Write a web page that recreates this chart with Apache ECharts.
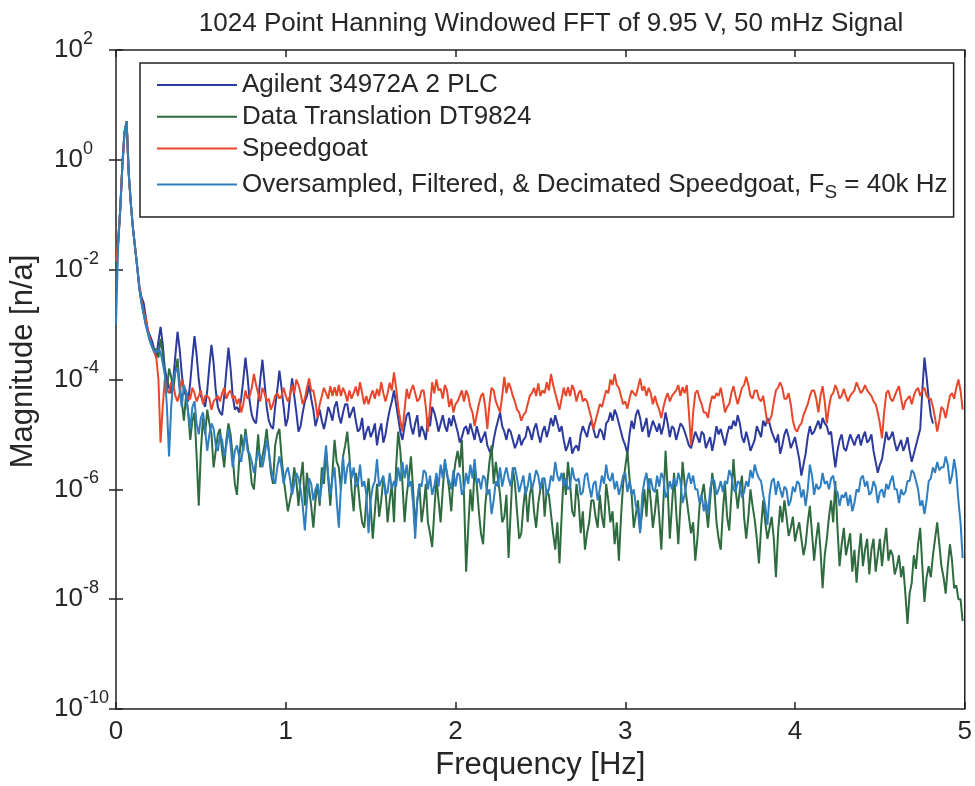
<!DOCTYPE html>
<html>
<head>
<meta charset="utf-8">
<script src="https://cdn.jsdelivr.net/npm/echarts@6/dist/echarts.min.js"></script>
<style>
  html, body { margin: 0; padding: 0; background: #ffffff; }
  #main { width: 975px; height: 786px; }
</style>
</head>
<body>
<div id="main"></div>
<script>
// Spectrum bins are spaced 0.0125 Hz apart; bin j sits at j * binWidthHz.
// Magnitudes are tabulated as log10 values, split into even bins (0, 2, 4, ...)
// and odd bins (1, 3, 5, ...).
const binWidthHz = 0.0125;

const agilentEvenBins = [
  -2.0,
  -0.9, 0.5, -0.25, -1.25, -1.95, -2.5, -2.85, -3.2, -3.45,
  -3.3, -3.35, -4.0, -4.25, -3.55, -3.45, -4.2, -4.4, -3.6, -3.55,
  -4.3, -4.5, -3.75, -3.7, -4.5, -4.65, -3.85, -3.8, -4.55, -4.6,
  -4.0, -3.95, -4.65, -4.8, -4.0, -4.05, -4.75, -4.9, -4.2, -4.15,
  -4.85, -4.3, -4.3, -4.95, -4.6, -4.3, -4.35, -4.85, -4.55, -4.9,
  -4.5, -4.75, -4.4, -4.8, -4.45, -4.7, -4.5, -4.95, -4.7, -4.95,
  -5.05, -4.8, -4.95, -5.15, -4.75, -4.4, -4.45, -4.95, -4.85, -4.6,
  -5.0, -4.65, -4.85, -5.1, -4.85, -4.6, -4.95, -4.65, -4.95, -4.85,
  -4.8, -5.15, -4.9, -5.0, -4.95, -4.85, -5.15, -4.95, -5.3, -5.1,
  -4.75, -4.85, -5.1, -4.95, -5.25, -5.0, -5.1, -4.85, -5.1, -4.8,
  -5.15, -4.85, -4.9, -4.85, -4.8, -4.85, -5.3, -5.05, -5.25, -5.3,
  -4.85, -5.05, -4.75, -5.05, -4.9, -5.1, -4.75, -4.75, -4.65, -4.95,
  -5.2, -5.0, -4.9, -4.55, -4.95, -4.7, -4.9, -4.85, -4.8, -4.85,
  -4.8, -4.85, -5.1, -4.8, -4.95, -5.2, -5.1, -5.05, -4.95, -5.25,
  -5.05, -5.1, -5.0, -5.05, -5.0, -4.9, -4.85, -4.8, -5.15, -5.1,
  -5.2, -4.85, -5.05, -4.85, -4.8, -5.05, -5.0, -5.2, -4.9, -5.25,
  -5.05, -5.45, -5.55, -5.05, -5.0, -4.85, -4.9, -4.8, -5.0, -5.3,
  -5.3, -5.0, -5.3, -5.0, -5.2, -5.0, -5.05, -5.15, -5.0, -5.5,
  -5.55, -5.2, -5.1, -4.95, -5.3, -5.1, -5.2, -5.3, -5.35, -5.05,
  -4.2, -3.95, -4.65
];
const agilentOddBins = [
  -1.5, -0.1, 0.7, -0.8, -1.6, -2.3, -2.6, -3.1, -3.3, -3.6,
  -3.04, -3.8, -4.15, -4.0, -3.13, -3.9, -4.3, -4.05, -3.21, -4.0,
  -4.4, -4.2, -3.37, -4.2, -4.6, -4.3, -3.42, -4.3, -4.5, -4.35,
  -3.6, -4.4, -4.75, -4.4, -3.64, -4.5, -4.85, -4.5, -3.84, -4.5,
  -4.7, -3.98, -4.6, -4.85, -4.4, -4.1, -4.55, -4.7, -4.75, -4.72,
  -4.6, -4.5, -4.65, -4.6, -4.45, -4.6, -4.75, -4.9, -5.1, -4.85,
  -4.95, -5.2, -4.8, -5.0, -4.55, -4.2, -4.7, -5.1, -4.65, -4.85,
  -4.8, -5.05, -4.95, -4.7, -4.5, -4.75, -4.8, -4.85, -4.7, -4.65,
  -4.95, -5.05, -4.85, -4.8, -5.1, -5.0, -5.05, -5.2, -5.35, -4.9,
  -4.6, -4.95, -4.9, -5.1, -5.15, -5.2, -5.05, -4.95, -4.9, -5.0,
  -4.95, -5.05, -4.7, -4.65, -4.95, -5.1, -5.2, -5.35, -5.2, -5.0,
  -4.95, -4.85, -4.9, -5.05, -4.95, -4.8, -4.6, -4.55, -4.8, -5.1,
  -5.35, -4.75, -4.65, -4.7, -4.85, -5.05, -4.75, -4.95, -5.0, -4.6,
  -5.05, -4.9, -4.95, -4.85, -5.07, -5.25, -4.95, -5.15, -5.0, -5.15,
  -5.3, -4.85, -4.9, -5.2, -4.85, -4.75, -4.65, -5.05, -4.95, -5.3,
  -5.1, -4.95, -4.75, -4.7, -4.95, -5.15, -5.35, -5.0, -5.05, -5.15,
  -5.25, -5.75, -5.35, -4.85, -4.95, -4.75, -4.7, -4.85, -4.95, -5.6,
  -5.1, -5.25, -5.15, -5.1, -5.07, -5.2, -4.95, -5.1, -5.3, -5.7,
  -5.45, -4.95, -5.05, -5.15, -5.2, -5.3, -5.05, -5.5, -5.2, -4.9,
  -3.6, -4.35, -4.8
];

const dt9824EvenBins = [
  -2.0,
  -0.9, 0.5, -0.25, -1.25, -1.95, -2.6, -3.0, -3.3, -3.45,
  -3.6, -3.5, -4.2, -3.95, -3.85, -4.1, -4.75, -4.6, -4.75, -5.4,
  -5.3, -5.0, -4.8, -5.6, -5.0, -5.3, -5.1, -5.0, -5.9, -5.5,
  -5.3, -5.2, -5.9, -5.5, -5.6, -5.2, -5.3, -5.9, -5.0, -5.4,
  -6.1, -6.2, -5.6, -6.3, -5.5, -5.7, -6.3, -6.2, -6.3, -5.9,
  -5.8, -5.7, -5.5, -6.0, -5.2, -5.4, -6.4, -5.9, -6.6, -6.2,
  -6.3, -6.4, -6.5, -5.8, -6.6, -5.9, -5.6, -5.3, -6.6, -5.8,
  -6.0, -6.2, -6.6, -5.9, -6.8, -6.4, -6.2, -6.0, -5.7, -6.4,
  -5.5, -5.6, -6.1, -6.7, -6.4, -5.9, -6.8, -6.3, -5.5, -5.9,
  -5.8, -6.6, -6.1, -6.4, -5.9, -6.9, -6.3, -6.6, -5.9, -6.7,
  -6.0, -6.5, -6.1, -6.8, -6.6, -6.5, -6.1, -5.9, -6.5, -6.2,
  -6.4, -6.8, -6.2, -6.5, -6.1, -6.7, -6.2, -6.4, -6.6, -6.5,
  -5.6, -5.8, -6.7, -6.2, -6.4, -6.5, -6.2, -6.4, -6.5, -6.2,
  -6.0, -6.3, -6.4, -6.3, -5.9, -6.5, -6.6, -6.9, -6.1, -6.3,
  -6.2, -6.0, -6.9, -6.4, -6.5, -6.1, -6.0, -6.0, -6.5, -6.5,
  -6.3, -6.9, -6.7, -6.6, -6.7, -6.9, -6.8, -6.6, -6.5, -6.7,
  -6.95, -6.6, -7.2, -6.6, -6.8, -6.9, -7.1, -7.2, -6.5, -6.6,
  -6.7, -7.0, -7.2, -6.8, -7.1, -7.2, -7.4, -6.9, -7.1, -7.5,
  -6.9, -7.0, -7.3, -7.2, -7.4, -7.6, -7.9, -7.9, -7.2, -7.0,
  -7.4, -7.6, -7.6, -6.9, -7.0, -7.6, -7.4, -7.3, -7.75, -8.0
];
const dt9824OddBins = [
  -1.5, -0.1, 0.7, -0.8, -1.6, -2.35, -2.8, -3.15, -3.4, -3.45,
  -3.26, -3.9, -3.8, -4.2, -3.62, -4.4, -4.3, -5.1, -4.6, -6.3,
  -4.7, -4.55, -5.0, -5.3, -4.9, -5.6, -4.8, -5.4, -6.1, -5.0,
  -4.9, -5.5, -6.0, -5.0, -5.4, -4.9, -5.7, -5.2, -4.9, -5.8,
  -6.4, -6.0, -5.85, -5.8, -6.3, -6.0, -6.7, -5.9, -5.6, -5.3,
  -6.3, -5.1, -5.6, -5.4, -4.95, -6.0, -5.7, -6.3, -6.7, -5.8,
  -6.9, -5.9, -6.2, -6.0, -6.2, -6.6, -4.95, -5.9, -6.1, -5.4,
  -6.7, -5.9, -6.3, -6.6, -7.05, -5.8, -6.6, -5.5, -6.0, -5.8,
  -5.3, -5.1, -7.5, -6.0, -5.6, -6.4, -7.0, -5.9, -5.2, -5.5,
  -6.1, -6.5, -7.25, -5.6, -6.4, -6.8, -5.95, -6.1, -6.4, -6.25,
  -5.8, -6.0, -6.45, -7.1, -7.35, -5.7, -5.5, -6.4, -5.9, -6.8,
  -7.1, -6.6, -6.2, -6.7, -6.5, -5.9, -6.6, -7.0, -7.3, -5.9,
  -5.3, -6.1, -6.45, -6.75, -6.0, -5.8, -6.7, -6.0, -7.1, -5.3,
  -6.9, -5.7, -7.0, -5.5, -6.2, -6.8, -7.3, -6.3, -5.9, -6.7,
  -5.7, -6.6, -7.1, -5.9, -6.75, -5.45, -6.35, -5.75, -6.9, -6.0,
  -6.55, -7.35, -6.2, -6.9, -6.5, -7.6, -6.3, -6.2, -6.85, -6.5,
  -6.75, -6.9, -7.0, -6.3, -7.3, -6.6, -7.8, -6.9, -6.2, -5.85,
  -7.4, -6.7, -7.0, -7.5, -7.7, -6.8, -7.1, -7.55, -6.9, -7.2,
  -7.4, -6.7, -7.1, -7.55, -7.2, -7.4, -8.45, -7.7, -7.45, -6.7,
  -8.05, -7.4, -7.2, -6.6, -7.4, -7.9, -7.0, -7.8, -8.0, -8.4
];

const speedgoatEvenBins = [
  -1.85,
  -0.9, 0.5, -0.25, -1.25, -1.95, -2.55, -2.9, -3.25, -3.5,
  -4.0, -4.5, -4.2, -4.05, -4.3, -4.25, -4.15, -4.35, -4.15, -4.4,
  -4.2, -4.3, -4.35, -4.4, -4.3, -4.25, -4.35, -4.2, -4.3, -4.35,
  -4.45, -4.35, -4.15, -4.1, -4.4, -4.25, -4.35, -4.45, -4.25, -4.3,
  -4.3, -4.3, -4.25, -4.1, -4.45, -4.15, -4.2, -4.4, -4.45, -4.15,
  -4.35, -4.3, -4.3, -4.3, -4.25, -4.2, -4.25, -4.3, -4.25, -4.3,
  -4.3, -4.35, -4.3, -4.25, -4.25, -4.2, -4.15, -4.75, -4.55, -4.35,
  -4.1, -4.4, -4.2, -4.5, -4.5, -4.25, -4.2, -4.35, -4.2, -4.35,
  -4.45, -4.3, -4.4, -4.3, -4.6, -4.65, -4.3, -4.5, -4.45, -4.2,
  -4.5, -4.3, -4.25, -4.15, -4.4, -4.6, -4.65, -4.45, -4.25, -4.3,
  -4.3, -4.25, -4.2, -4.1, -4.4, -4.35, -4.3, -4.3, -4.2, -4.25,
  -4.4, -4.4, -4.7, -4.75, -4.45, -4.35, -4.25, -4.1, -4.1, -4.3,
  -4.4, -4.35, -4.25, -4.15, -4.2, -4.3, -4.25, -4.3, -4.55, -4.5,
  -4.25, -4.3, -4.2, -4.3, -4.25, -4.6, -4.6, -4.2, -4.45, -4.6,
  -4.45, -4.35, -4.3, -4.35, -4.5, -4.25, -4.3, -4.3, -4.1, -4.1,
  -4.35, -4.2, -4.4, -4.55, -4.75, -4.4, -4.15, -4.15, -4.35, -4.45,
  -4.9, -4.85, -4.65, -4.45, -4.2, -4.35, -4.3, -4.4, -4.5, -4.25,
  -4.2, -4.3, -4.3, -4.3, -4.2, -4.15, -4.2, -4.2, -4.3, -4.45,
  -4.8, -4.6, -4.2, -4.4, -4.2, -4.35, -4.4, -4.3, -4.3, -4.15,
  -4.2, -4.3, -4.35, -4.7, -4.75, -4.55, -4.5, -4.25, -4.15, -4.2
];
const speedgoatOddBins = [
  -1.5, -0.1, 0.7, -0.8, -1.6, -2.3, -2.75, -3.1, -3.4, -3.6,
  -5.15, -4.0, -4.25, -4.1, -4.4, -4.0, -4.2, -4.35, -4.25, -4.3,
  -4.45, -4.3, -4.55, -4.35, -4.4, -4.15, -4.25, -4.35, -4.45, -4.6,
  -4.2, -4.3, -3.9, -4.25, -4.15, -4.4, -4.55, -4.3, -4.35, -4.15,
  -4.4, -4.1, -4.0, -4.25, -4.35, -3.98, -4.2, -4.7, -4.3, -4.25,
  -4.12, -4.14, -4.1, -4.15, -4.4, -4.35, -4.13, -4.05, -4.45, -4.45,
  -4.2, -4.17, -4.05, -4.4, -4.06, -3.87, -4.5, -4.95, -4.17, -4.2,
  -4.25, -4.35, -4.2, -4.95, -4.05, -4.0, -4.17, -4.1, -4.5, -4.6,
  -4.4, -4.2, -4.2, -4.5, -4.85, -4.45, -4.25, -4.9, -4.15, -4.4,
  -4.6, -3.95, -4.06, -4.3, -4.55, -4.75, -4.6, -4.3, -4.15, -4.07,
  -4.2, -4.05, -3.9, -4.25, -4.55, -4.15, -4.14, -4.1, -4.4, -4.2,
  -4.35, -4.55, -4.9, -4.6, -4.5, -4.2, -4.0, -3.9, -4.15, -4.45,
  -4.53, -4.2, -4.3, -3.98, -4.12, -4.15, -4.45, -4.45, -4.7, -4.35,
  -4.4, -4.25, -4.1, -4.14, -4.1, -5.2, -4.25, -4.35, -4.6, -4.7,
  -4.3, -4.25, -4.15, -4.6, -4.45, -4.12, -4.45, -4.15, -3.95, -4.3,
  -4.2, -4.35, -4.3, -4.8, -4.65, -4.2, -4.05, -4.35, -4.25, -4.75,
  -4.95, -4.8, -4.55, -4.3, -4.2, -4.6, -4.12, -4.8, -4.3, -4.1,
  -4.35, -4.17, -4.4, -4.25, -4.05, -4.25, -4.1, -4.25, -4.4, -4.6,
  -5.07, -4.25, -4.35, -4.3, -4.12, -4.55, -4.35, -4.45, -4.2, -4.3,
  -4.15, -4.35, -4.5, -4.95, -4.5, -4.7, -4.3, -4.35, -4.0, -4.55
];

const oversampledEvenBins = [
  -3.0,
  -0.9, 0.5, -0.25, -1.25, -1.95, -2.6, -3.0, -3.3, -3.5,
  -3.45, -3.7, -4.5, -4.5, -3.85, -4.2, -4.1, -4.6, -4.5, -4.8,
  -4.7, -4.9, -5.0, -4.9, -5.3, -5.1, -5.2, -5.2, -5.3, -5.4,
  -5.2, -5.3, -5.5, -5.5, -5.4, -5.4, -5.3, -5.8, -5.6, -5.6,
  -5.7, -5.8, -5.9, -5.8, -6.3, -6.2, -5.9, -6.0, -6.2, -5.6,
  -5.75, -5.8, -6.2, -5.95, -5.9, -5.5, -5.6, -5.9, -5.95, -6.1,
  -6.2, -5.85, -5.95, -5.75, -6.05, -6.0, -5.95, -5.85, -5.8, -5.95,
  -6.25, -6.2, -5.95, -5.7, -5.75, -5.95, -5.95, -5.8, -5.75, -6.0,
  -5.95, -5.75, -6.0, -5.9, -5.8, -5.9, -6.0, -5.8, -6.0, -6.2,
  -5.95, -5.95, -5.6, -5.95, -5.6, -6.05, -5.75, -5.95, -6.0, -5.65,
  -6.0, -5.8, -6.0, -5.85, -5.75, -5.7, -5.8, -5.95, -5.8, -5.8,
  -6.05, -5.7, -6.15, -5.85, -6.0, -5.9, -5.8, -5.7, -5.85, -5.95,
  -5.7, -5.85, -6.0, -6.4, -6.1, -5.7, -5.8, -6.05, -5.95, -5.8,
  -6.05, -6.0, -5.95, -5.85, -6.1, -5.7, -5.75, -6.0, -6.1, -6.2,
  -6.0, -5.85, -6.0, -6.05, -5.9, -5.75, -6.05, -5.9, -6.05, -5.95,
  -5.8, -5.7, -5.85, -6.3, -6.1, -5.8, -5.85, -6.15, -6.0, -6.2,
  -6.05, -5.9, -6.0, -6.0, -5.75, -5.9, -5.95, -5.9, -6.0, -5.75,
  -6.05, -6.1, -6.05, -6.1, -6.25, -6.05, -5.75, -5.85, -6.05, -5.95,
  -6.05, -6.15, -6.0, -5.75, -6.0, -6.0, -6.05, -5.85, -5.7, -6.0,
  -6.2, -6.2, -5.8, -5.7, -5.65, -5.6, -5.55, -5.75, -5.7, -6.6
];
const oversampledOddBins = [
  -1.6, -0.1, 0.7, -0.8, -1.6, -2.35, -2.8, -3.15, -3.4, -3.5,
  -3.5, -3.9, -5.4, -4.0, -3.8, -4.5, -4.25, -4.9, -4.4, -5.0,
  -4.6, -5.3, -4.8, -5.2, -5.0, -5.4, -4.9, -5.6, -5.2, -5.5,
  -5.0, -5.35, -5.7, -5.3, -5.6, -5.1, -5.6, -5.9, -5.4, -5.9,
  -5.6, -6.1, -5.7, -6.0, -6.75, -5.8, -6.2, -5.9, -5.9, -5.2,
  -6.1, -5.6, -6.7, -5.4, -5.6, -5.8, -5.95, -5.55, -5.85, -6.8,
  -5.95, -5.45, -5.85, -6.1, -5.7, -5.85, -5.6, -5.5, -5.55, -5.85,
  -6.9, -5.9, -5.65, -6.0, -6.1, -5.7, -5.55, -5.45, -5.85, -5.65,
  -5.7, -6.1, -5.7, -5.55, -5.45, -5.8, -5.75, -6.1, -6.45, -5.85,
  -5.6, -5.75, -5.8, -5.65, -5.8, -5.9, -6.1, -5.7, -5.85, -5.75,
  -5.8, -6.1, -5.75, -5.5, -5.85, -5.95, -6.0, -5.6, -5.85, -6.1,
  -5.75, -5.95, -5.9, -6.2, -5.75, -5.55, -5.85, -6.0, -6.1, -5.75,
  -6.05, -6.1, -6.3, -6.8, -5.85, -6.0, -6.0, -5.75, -5.7, -6.15,
  -5.85, -5.8, -5.7, -6.25, -5.85, -5.9, -6.0, -6.25, -6.4, -6.45,
  -5.8, -6.1, -5.85, -5.85, -5.65, -6.0, -5.85, -6.15, -5.85, -5.65,
  -5.55, -5.8, -6.1, -6.65, -5.85, -6.1, -6.0, -5.95, -6.3, -5.95,
  -5.85, -6.15, -6.3, -5.55, -6.1, -6.0, -5.7, -5.85, -5.8, -6.0,
  -6.3, -6.15, -6.3, -6.4, -6.0, -5.8, -5.95, -6.1, -5.85, -6.25,
  -6.0, -5.9, -5.85, -6.0, -6.25, -6.1, -5.85, -5.65, -5.85, -6.3,
  -6.45, -5.85, -5.6, -5.5, -5.6, -5.4, -5.9, -5.45, -6.2, -7.25
];

const seriesNames = [
  'Agilent 34972A 2 PLC',
  'Data Translation DT9824',
  'Speedgoat',
  'Oversampled, Filtered, & Decimated Speedgoat, FS = 40k Hz'
];
const seriesColors = ['#2b3a9c', '#2e6b3f', '#e8472b', '#2f7fc0'];
const seriesBins = [
  [agilentEvenBins, agilentOddBins],
  [dt9824EvenBins, dt9824OddBins],
  [speedgoatEvenBins, speedgoatOddBins],
  [oversampledEvenBins, oversampledOddBins]
];

const titleText = '1024 Point Hanning Windowed FFT of 9.95 V, 50 mHz Signal';
const xTicks = [0, 1, 2, 3, 4, 5];
const yDecades = [-10, -8, -6, -4, -2, 0, 2];

const FONT = '"Liberation Sans", Arial, Helvetica, sans-serif';
const INK = '#262626';

// Merge even and odd bins into [frequency, magnitude] pairs in bin order.
function toPairs(evenBins, oddBins) {
  const pairs = [];
  const n = Math.max(evenBins.length, oddBins.length);
  for (let i = 0; i < n; i++) {
    if (i < evenBins.length) pairs.push([+(2 * i * binWidthHz).toFixed(4), Math.pow(10, evenBins[i])]);
    if (i < oddBins.length) pairs.push([+((2 * i + 1) * binWidthHz).toFixed(4), Math.pow(10, oddBins[i])]);
  }
  return pairs;
}

const chart = echarts.init(document.getElementById('main'), null, { renderer: 'canvas' });

const yLabel = {
  fontFamily: FONT,
  color: INK,
  align: 'left',
  margin: 62,
  formatter: function (value) {
    const e = Math.round(Math.log10(value));
    return '{b|10}{e|' + e + '}';
  },
  rich: {
    b: { fontFamily: FONT, fontSize: 26, color: INK },
    e: { fontFamily: FONT, fontSize: 18, color: INK, lineHeight: 4, padding: [0, 0, 22, 0] }
  }
};

const tickStyle = { inside: true, length: 7, lineStyle: { color: '#222', width: 1.5 } };

const option = {
  animation: false,
  backgroundColor: '#ffffff',
  title: {
    text: titleText,
    left: 546,
    top: 6,
    textAlign: 'center',
    textStyle: { fontFamily: FONT, fontSize: 26, fontWeight: 'normal', color: INK }
  },
  grid: {
    left: 115, right: 10, top: 50, bottom: 73,
    show: true, borderColor: '#222', borderWidth: 1.5, backgroundColor: 'transparent'
  },
  legend: {
    orient: 'vertical',
    left: 140,
    top: 63,
    padding: [9, 6, 15, 17],
    itemGap: 5.7,
    itemWidth: 80,
    itemHeight: 2,
    icon: 'rect',
    borderColor: '#222',
    borderWidth: 1.5,
    backgroundColor: '#ffffff',
    data: seriesNames,
    formatter: function (name) {
      if (name === seriesNames[3]) {
        return '{n|Oversampled, Filtered, & Decimated Speedgoat, F}{s|S}{n| = 40k Hz}';
      }
      return '{n|' + name + '}';
    },
    textStyle: {
      fontFamily: FONT,
      fontSize: 26,
      color: INK,
      lineHeight: 26,
      rich: {
        n: { fontFamily: FONT, fontSize: 26, color: INK, lineHeight: 26 },
        s: { fontFamily: FONT, fontSize: 19, color: INK, lineHeight: 4, padding: [16, 0, 0, 0] }
      }
    }
  },
  xAxis: [
    {
      type: 'value', min: xTicks[0], max: xTicks[xTicks.length - 1], interval: 1,
      position: 'bottom',
      axisLine: { show: false },
      axisTick: tickStyle,
      axisLabel: { fontFamily: FONT, fontSize: 26, color: INK, margin: 10 },
      splitLine: { show: false },
      name: 'Frequency [Hz]',
      nameLocation: 'middle',
      nameGap: 41,
      nameTextStyle: { fontFamily: FONT, fontSize: 31, color: INK }
    },
    {
      type: 'value', min: xTicks[0], max: xTicks[xTicks.length - 1], interval: 1,
      position: 'top',
      axisLine: { show: false },
      axisTick: tickStyle,
      axisLabel: { show: false },
      splitLine: { show: false }
    }
  ],
  yAxis: [
    {
      type: 'log', logBase: 10,
      min: Math.pow(10, yDecades[0]), max: Math.pow(10, yDecades[yDecades.length - 1]),
      interval: 2,
      position: 'left',
      axisLine: { show: false },
      axisTick: tickStyle,
      minorTick: { show: false },
      axisLabel: yLabel,
      splitLine: { show: false },
      name: 'Magnitude [n/a]',
      nameLocation: 'middle',
      nameGap: 77,
      nameRotate: 90,
      nameTextStyle: { fontFamily: FONT, fontSize: 31, color: INK, padding: [0, 0, 0, 36] }
    },
    {
      type: 'log', logBase: 10,
      min: Math.pow(10, yDecades[0]), max: Math.pow(10, yDecades[yDecades.length - 1]),
      interval: 2,
      position: 'right',
      axisLine: { show: false },
      axisTick: tickStyle,
      axisLabel: { show: false },
      splitLine: { show: false }
    }
  ],
  series: seriesNames.map((name, i) => ({
    name: name,
    type: 'line',
    xAxisIndex: 0,
    yAxisIndex: 0,
    data: toPairs(seriesBins[i][0], seriesBins[i][1]),
    symbol: 'none',
    showSymbol: false,
    clip: true,
    lineStyle: { color: seriesColors[i], width: 2 },
    itemStyle: { color: seriesColors[i] },
    emphasis: { disabled: true },
    z: 2 + i
  }))
};

chart.setOption(option);
</script>
</body>
</html>
